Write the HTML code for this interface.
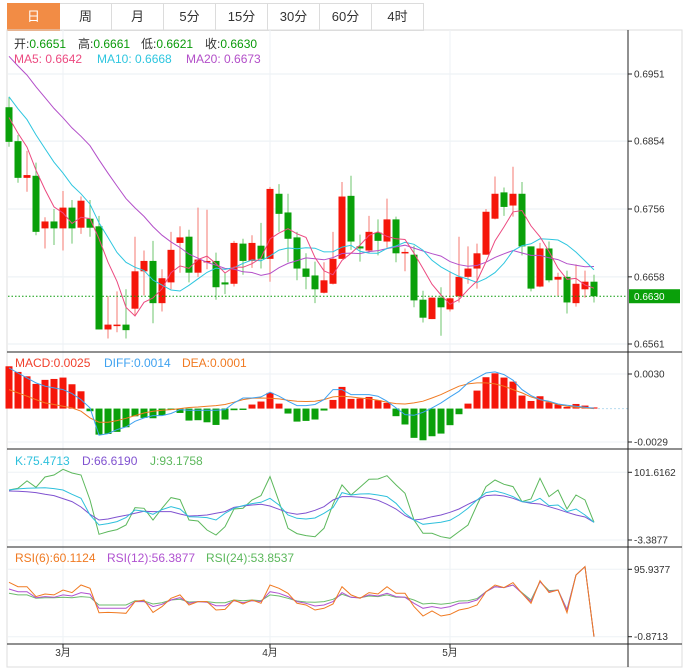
<!DOCTYPE html>
<html><head><meta charset="utf-8">
<style>
body{margin:0;background:#fff;width:688px;height:672px;overflow:hidden;font-family:"Liberation Sans","Noto Sans CJK SC",sans-serif;}
#tabs{position:absolute;left:7px;top:3px;height:27px;display:flex;}
.tab{width:51px;height:26px;border:1px solid #dcdcdc;border-left:none;line-height:26px;text-align:center;font-size:13px;color:#333;background:#fff;}
.tab:first-child{border-left:1px solid #dcdcdc;}
.tab.active{background:#f28c45;color:#fff;border-color:#f28c45;}
svg{position:absolute;left:0;top:0;}
</style></head><body>
<div id="tabs">
<div class="tab active">日</div>
<div class="tab">周</div>
<div class="tab">月</div>
<div class="tab">5分</div>
<div class="tab">15分</div>
<div class="tab">30分</div>
<div class="tab">60分</div>
<div class="tab">4时</div>
</div>
<svg id="chart" width="688" height="672" font-family="Liberation Sans, Noto Sans CJK SC, sans-serif">
<rect x="7" y="30" width="675" height="637" fill="none" stroke="#ddd"/>
<g id="grid"></g>
<g id="main"></g>
<g id="macd"></g>
<g id="kdj"></g>
<g id="rsi"></g>
<g id="axes"></g>
<text y="48" font-size="12"><tspan x="14" fill="#333">开:</tspan><tspan fill="#0a9a0a">0.6651</tspan><tspan x="78" fill="#333">高:</tspan><tspan fill="#0a9a0a">0.6661</tspan><tspan x="141" fill="#333">低:</tspan><tspan fill="#0a9a0a">0.6621</tspan><tspan x="205" fill="#333">收:</tspan><tspan fill="#0a9a0a">0.6630</tspan></text>
<text y="63" font-size="12"><tspan x="14" fill="#ec4a80">MA5: 0.6642</tspan><tspan x="97" fill="#2ec6df">MA10: 0.6668</tspan><tspan x="186" fill="#b34fc9">MA20: 0.6673</tspan></text>
<text y="367" font-size="12"><tspan x="15" fill="#f0402c">MACD:0.0025</tspan><tspan x="104" fill="#3fa2f0">DIFF:0.0014</tspan><tspan x="182" fill="#f07a22">DEA:0.0001</tspan></text>
<text y="465" font-size="12"><tspan x="15" fill="#2ec0dc">K:75.4713</tspan><tspan x="82" fill="#8052d0">D:66.6190</tspan><tspan x="150" fill="#5cb85c">J:93.1758</tspan></text>
<text y="562" font-size="12"><tspan x="15" fill="#f07a22">RSI(6):60.1124</tspan><tspan x="107" fill="#b052d0">RSI(12):56.3877</tspan><tspan x="206" fill="#5cb85c">RSI(24):53.8537</tspan></text>
</svg>
<script>
const opens=[0.6903,0.6854,0.6801,0.6804,0.6728,0.6738,0.6728,0.6758,0.6729,0.6742,0.6731,0.6582,0.6588,0.6589,0.6612,0.6666,0.6681,0.6620,0.6650,0.6707,0.6716,0.6664,0.6679,0.6681,0.6650,0.6648,0.6706,0.6681,0.6703,0.6684,0.6778,0.6751,0.6715,0.6670,0.6660,0.6635,0.6648,0.6684,0.6775,0.6702,0.6696,0.6722,0.6709,0.6741,0.6692,0.6690,0.6625,0.6597,0.6628,0.6611,0.6630,0.6658,0.6670,0.6690,0.6742,0.6780,0.6761,0.6778,0.6702,0.6644,0.6699,0.6654,0.6658,0.6620,0.6640,0.6651];
const highs=[0.6918,0.6863,0.6840,0.6823,0.6744,0.6756,0.6782,0.6769,0.6774,0.6769,0.6746,0.6630,0.6637,0.6640,0.6716,0.6696,0.6710,0.6669,0.6723,0.6731,0.6726,0.6758,0.6755,0.6693,0.6664,0.6710,0.6713,0.6718,0.6736,0.6788,0.6792,0.6778,0.6723,0.6692,0.6680,0.6679,0.6723,0.6795,0.6804,0.6719,0.6746,0.6741,0.6771,0.6745,0.6699,0.6703,0.6638,0.6628,0.6643,0.6666,0.6716,0.6702,0.6706,0.6756,0.6803,0.6787,0.6817,0.6795,0.6702,0.6707,0.6709,0.6664,0.6667,0.6676,0.6667,0.6661];
const lows=[0.6846,0.6794,0.6781,0.6718,0.6699,0.6704,0.6696,0.6706,0.6720,0.6716,0.6582,0.6569,0.6578,0.6569,0.6602,0.6631,0.6591,0.6608,0.6640,0.6664,0.6650,0.6658,0.6669,0.6625,0.6633,0.6644,0.6661,0.6671,0.6670,0.6651,0.6723,0.6679,0.6653,0.6640,0.6620,0.6634,0.6647,0.6684,0.6697,0.6680,0.6692,0.6689,0.6700,0.6679,0.6666,0.6614,0.6592,0.6597,0.6573,0.6608,0.6621,0.6648,0.6641,0.6690,0.6741,0.6746,0.6745,0.6689,0.6637,0.6643,0.6650,0.6630,0.6605,0.6615,0.6628,0.6621];
const closes=[0.6853,0.6801,0.6805,0.6723,0.6738,0.6728,0.6758,0.6728,0.6768,0.6729,0.6582,0.6589,0.6589,0.6581,0.6666,0.6681,0.6620,0.6656,0.6697,0.6715,0.6664,0.6683,0.6681,0.6643,0.6647,0.6707,0.6681,0.6707,0.6684,0.6785,0.6749,0.6713,0.6670,0.6658,0.6640,0.6653,0.6684,0.6774,0.6709,0.6699,0.6723,0.6710,0.6741,0.6692,0.6694,0.6624,0.6599,0.6628,0.6614,0.6627,0.6658,0.6670,0.6692,0.6752,0.6778,0.6759,0.6778,0.6702,0.6641,0.6699,0.6653,0.6658,0.6621,0.6648,0.6651,0.6630];
const priorCloses=[0.7080,0.7070,0.7060,0.7050,0.7040,0.7030,0.7020,0.7010,0.7000,0.6990,0.6975,0.6960,0.6945,0.6935,0.6925,0.6915,0.6905,0.6890,0.6878];
const priceTicks=[0.6951,0.6854,0.6756,0.6658,0.6561];
const macdHist=[0.00367,0.00318,0.0028,0.00214,0.00249,0.00257,0.00269,0.00211,0.0015,-0.00023,-0.00226,-0.0022,-0.00202,-0.00162,-0.00067,-0.00081,-0.00084,-0.00058,-0.00012,-0.00038,-0.00104,-0.00101,-0.00119,-0.00142,-0.00095,-0.00014,-0.00012,0.00035,0.00061,0.00136,0.00043,-0.00043,-0.00113,-0.00107,-0.00095,-0.00017,0.00075,0.00188,0.00084,0.00087,0.00101,0.00072,0.00049,-0.00066,-0.00138,-0.00254,-0.00275,-0.0024,-0.00217,-0.00144,-0.00049,0.00043,0.00156,0.00272,0.00306,0.00269,0.00234,0.00113,0.00066,0.00107,0.00055,0.00037,0.00014,0.0004,0.00026,0.0001];
const diffVals=[0.00353,0.00309,0.00266,0.00223,0.00194,0.00179,0.00165,0.0013,0.00078,0.00006,-0.00231,-0.00217,-0.00182,-0.00159,-0.0011,-0.00081,-0.00061,-0.00061,-0.00043,-0.00009,-0.00014,-0.00014,-0.00014,-0.00014,-0.00009,0.00049,0.00092,0.00092,0.00101,0.00142,0.00107,0.00064,0.00026,0.00026,0.00035,0.00078,0.00165,0.00165,0.00121,0.00121,0.00121,0.00107,0.00064,0.00006,-0.00052,-0.00058,-0.00032,0.00006,0.00049,0.00101,0.0015,0.00223,0.00266,0.00309,0.00318,0.00295,0.00246,0.00165,0.00113,0.00078,0.00064,0.0004,0.00029,0.0002,0.00012,0.00003];
const deaVals=[0.00165,0.00136,0.00107,0.00078,0.00049,0.00035,0.0002,0.00006,-0.00023,-0.00081,-0.00118,-0.00118,-0.00104,-0.00084,-0.00061,-0.00038,-0.00023,-0.00014,-0.00009,0,0.00009,0.00014,0.0002,0.00026,0.00035,0.00055,0.00078,0.0009,0.00092,0.0009,0.00084,0.00072,0.00064,0.00061,0.00064,0.00078,0.00101,0.00107,0.00101,0.00092,0.00084,0.00072,0.00055,0.00043,0.0004,0.00049,0.00064,0.00092,0.00121,0.00159,0.00194,0.00214,0.00223,0.00223,0.00214,0.00194,0.00165,0.00136,0.00101,0.00078,0.00055,0.00035,0.0002,0.00012,0.00006,0];
const macdTicks=[0.0030,-0.0029];
const kVals=[74.2,75.8,76.8,77.3,77.8,76.3,74.2,67.5,61.3,35.4,19.9,22.0,25.1,31.3,43.2,41.1,36.5,43.7,48.3,44.7,32.8,32.3,31.3,27.7,38.0,45.8,49.9,53.0,55.1,61.3,50.9,35.4,30.3,29.2,30.8,38.0,46.8,70.1,66.4,68.0,68.5,66.4,63.9,53.5,38.0,27.7,20.9,22.5,24.0,27.2,35.4,45.8,58.7,70.1,72.6,69.0,63.9,56.1,55.1,61.3,49.9,50.9,40.6,44.7,35.4,24.0];
const dVals=[72.6,72.1,71.6,70.1,67.5,65.4,60.8,56.1,47.8,36.5,27.7,29.2,32.3,34.9,38.0,41.1,40.6,40.6,40.6,37.0,33.9,34.4,35.4,38.0,40.6,47.3,49.4,50.9,52.0,49.4,44.2,39.0,36.5,38.5,42.7,48.3,58.7,63.9,63.9,62.8,61.3,58.2,52.0,44.7,34.4,27.7,29.2,32.8,35.4,39.6,44.7,52.0,58.7,65.4,66.4,64.9,61.3,56.1,53.5,52.5,48.3,44.2,39.6,35.4,32.3,24.0];
const jVals=[74.2,76.8,88.2,78.3,94.4,97.5,106.3,100.6,97.5,58.7,5.4,9.6,12.7,19.9,46.8,45.8,27.7,45.8,62.3,59.2,27.7,26.1,12.2,4.4,17.3,44.7,45.8,58.7,65.4,94.9,56.1,14.7,6.5,3.4,1.8,14.7,52.0,82.0,66.4,78.3,90.7,91.3,96.4,82.0,69.0,27.7,7.0,7.0,1.8,-0.8,9.6,19.9,50.9,79.4,89.7,83.0,79.4,56.1,60.2,92.3,63.9,74.2,44.7,66.4,58.7,24.0];
const kdjTicks=[101.6162,-3.3877];
const rsi6=[77.3,71.0,71.0,56.7,60.5,59.1,66.2,62.4,73.4,68.6,33.6,34.1,33.6,32.7,49.5,51.9,34.1,42.3,54.3,59.1,44.7,49.5,49.5,37.5,38.4,51.9,46.1,51.9,47.1,73.4,68.6,61.4,47.1,44.7,37.5,39.9,46.1,71.0,59.1,54.3,62.4,60.5,71.0,61.4,61.4,42.3,28.9,36.1,28.9,31.2,37.5,39.9,44.7,63.8,73.4,69.6,76.8,61.4,47.1,79.7,62.4,66.2,33.6,87.8,99.8,-0.9];
const rsi12=[67.7,63.8,63.8,55.2,56.7,55.7,59.1,57.6,62.4,60.5,39.9,39.9,39.9,39.9,49.5,49.5,42.3,45.6,51.9,55.2,47.1,49.5,48.5,43.7,43.7,50.9,48.0,50.9,49.5,63.8,61.4,56.7,49.5,47.1,43.2,44.7,49.5,62.4,55.7,54.7,59.1,57.6,61.4,56.7,55.7,47.1,39.9,42.3,39.9,42.3,47.1,48.0,51.9,63.8,71.0,69.6,73.4,61.4,49.5,78.2,63.8,66.2,37.5,87.8,99.8,-0.9];
const rsi24=[61.4,59.1,59.1,54.3,55.2,55.2,55.7,55.2,56.7,55.7,44.7,44.7,44.7,44.7,50.9,50.4,46.1,48.0,51.9,52.8,49.0,49.5,49.5,48.0,48.0,51.9,50.9,51.9,50.9,59.1,57.6,54.3,50.4,49.0,48.5,49.5,52.8,60.0,55.7,55.2,57.6,56.7,59.1,55.7,55.7,51.9,46.1,47.1,45.6,47.1,50.4,50.9,53.8,63.8,71.0,69.6,73.4,62.4,51.9,78.2,65.3,66.2,38.4,87.8,99.8,-0.9];
const rsiTicks=[95.9377,-0.8713];
const monthLabels=["3月","4月","5月"];
const monthIndex=[6,29,49];

const NS="http://www.w3.org/2000/svg";
function mk(parent,tag,attrs){const e=document.createElementNS(NS,tag);for(const k in attrs)e.setAttribute(k,attrs[k]);parent.appendChild(e);return e;}
const N=closes.length;
const xOf=i=>9+i*(585/65);
function lin(v0,y0,v1,y1){return v=>y0+(v-v0)*(y1-y0)/(v1-v0);}
const yP=lin(0.6951,74,0.6561,344);
const yM=lin(0.0030,374,-0.0029,442);
const yK=lin(101.6162,472.3,-3.3877,540);
const yR=lin(95.9377,569.3,-0.8713,636.7);
const grid=document.getElementById('grid');
const axes=document.getElementById('axes');

priceTicks.forEach(t=>{const l=mk(grid,'line',{x1:8,x2:628,y1:yP(t),y2:yP(t),stroke:'#e9eff3'});

});
[yM(macdTicks[0]),yM(macdTicks[1]),yK(kdjTicks[0]),yK(kdjTicks[1]),yR(rsiTicks[0]),yR(rsiTicks[1])].forEach(y=>{const l=mk(grid,'line',{x1:8,x2:628,y1:y,y2:y,stroke:'#eef2f5'});

});
monthIndex.forEach(i=>{const l=mk(grid,'line',{x1:xOf(i),x2:xOf(i),y1:30,y2:644,stroke:'#eef2f5'});

});

const main=document.getElementById('main');
for(let i=0;i<N;i++){
 const up=closes[i]>=opens[i];const x=xOf(i);
 const w=mk(main,'line',{x1:x,x2:x,y1:yP(highs[i]),y2:yP(lows[i]),stroke:up?'#f57a72':'#6cc66c','stroke-width':1});
 
 
 const t=yP(Math.max(opens[i],closes[i])),b=yP(Math.min(opens[i],closes[i]));
 const r=mk(main,'rect',{x:x-3.5,y:t,width:7,height:Math.max(b-t,1.5),fill:up?'#f5160a':'#0aa00a'});
 
 
}
const all=priorCloses.concat(closes);
function ma(n){const out=[];for(let i=0;i<N;i++){let s=0;for(let k=0;k<n;k++)s+=all[i+priorCloses.length-k];out.push(s/n);}return out;}
function poly(g,vals,yf,color,name){const pts=vals.map((v,i)=>xOf(i).toFixed(1)+','+yf(v).toFixed(1)).join(' ');
 const p=mk(g,'polyline',{points:pts,fill:'none',stroke:color,'stroke-width':1});
 
 }
poly(main,ma(20),yP,'#b34fc9','ma20-line');
poly(main,ma(10),yP,'#2ec6df','ma10-line');
poly(main,ma(5),yP,'#ec4a80','ma5-line');
const cur=mk(main,'line',{x1:8,x2:628,y1:yP(closes[N-1]),y2:yP(closes[N-1]),stroke:'#0a9a0a','stroke-dasharray':'1.5,2'});



const mg=document.getElementById('macd');
macdHist.forEach((v,i)=>{const y0=yM(0),y1=yM(v);
 const r=mk(mg,'rect',{x:xOf(i)-3.5,y:Math.min(y0,y1),width:7,height:Math.max(Math.abs(y1-y0),1),fill:v>=0?'#f5160a':'#0aa00a'});
 
 });
poly(mg,deaVals,yM,'#f07a22','dea-line');
poly(mg,diffVals,yM,'#3fa2f0','diff-line');
const zl=mk(mg,'line',{x1:xOf(N-1)+4,x2:628,y1:yM(0),y2:yM(0),stroke:'#b8dcef','stroke-dasharray':'2,2'});



const kg=document.getElementById('kdj');
poly(kg,jVals,yK,'#5cb85c','j-line');
poly(kg,dVals,yK,'#8052d0','d-line');
poly(kg,kVals,yK,'#2ec0dc','k-line');

const rg=document.getElementById('rsi');
poly(rg,rsi24,yR,'#6cbc6c','rsi24-line');
poly(rg,rsi12,yR,'#b052d0','rsi12-line');
poly(rg,rsi6,yR,'#f07a22','rsi6-line');

[352,449,547,644].forEach(y=>{const l=mk(axes,'line',{x1:7,x2:682,y1:y,y2:y,stroke:'#222'});

});
const ax=mk(axes,'line',{x1:628,x2:628,y1:30,y2:667,stroke:'#222'});


function tick(y,label,name){const l=mk(axes,'line',{x1:628,x2:632,y1:y,y2:y,stroke:'#222'});
 
 
 const t=mk(axes,'text',{x:634,y:y+3.5,'font-size':10,fill:'#333'});t.textContent=label;
 
 }
priceTicks.forEach(v=>tick(yP(v),v.toFixed(4),'price-axis'));
macdTicks.forEach(v=>tick(yM(v),v.toFixed(4),'macd-axis'));
kdjTicks.forEach(v=>tick(yK(v),v.toFixed(4),'kdj-axis'));
rsiTicks.forEach(v=>tick(yR(v),v.toFixed(4),'rsi-axis'));
const py=yP(closes[N-1]);
const box=mk(axes,'rect',{x:629,y:py-7,width:51,height:14,fill:'#0aa00a'});


const bt=mk(axes,'text',{x:634,y:py+4,'font-size':10,fill:'#fff'});bt.textContent=closes[N-1].toFixed(4);


monthLabels.forEach((m,k)=>{const x=xOf(monthIndex[k]);
 const l=mk(axes,'line',{x1:x,x2:x,y1:644,y2:648,stroke:'#222'});
 
 
 const t=mk(axes,'text',{x:x,y:656,'font-size':10,fill:'#333','text-anchor':'middle'});t.textContent=m;
 
 });
</script>
</body></html>
